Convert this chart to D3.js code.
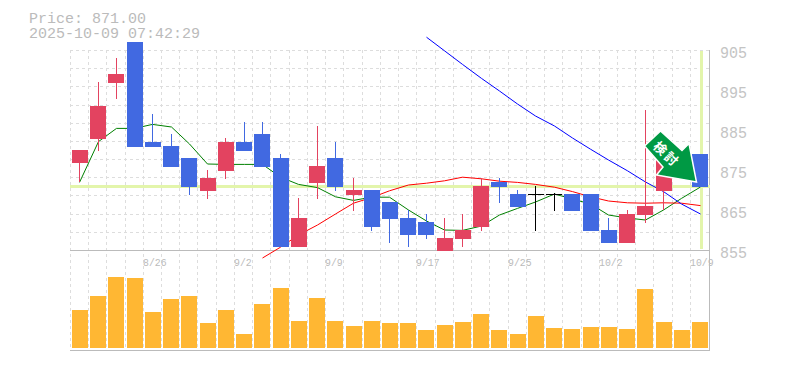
<!DOCTYPE html>
<html>
<head>
<meta charset="utf-8">
<script src="https://cdnjs.cloudflare.com/ajax/libs/d3/7.8.5/d3.min.js"></script>
<style>
  html, body { margin: 0; padding: 0; background: #fff; }
  svg { display: block; }
  text { font-family: "Liberation Mono", "DejaVu Sans Mono", monospace; fill: #bbb; }
</style>
</head>
<body>
<div class="canvas"></div>
<script>
// header lines
const titleLines = ['Price: 871.00', '2025-10-09 07:42:29'];
const lastPrice = 871;
const arrowLabel = ['検', '討'];

// trading days, one per candle
const dates = ['8/20','8/21','8/22','8/25','8/26','8/27','8/28','8/29','9/1','9/2',
  '9/3','9/4','9/5','9/8','9/9','9/10','9/11','9/12','9/16','9/17',
  '9/18','9/19','9/22','9/24','9/25','9/26','9/29','9/30','10/1','10/2',
  '10/3','10/6','10/7','10/8','10/9'];
const dateLabels = ['8/26','9/2','9/9','9/17','9/25','10/2','10/9'];
const priceTicks = [855, 865, 875, 885, 895, 905];

// ohlc (10/7 top and 10/8 sit behind the arrow, so those are guesses)
const opens = [876.75,882.75,896.75,907,882,881,878,869.75,874.75,882,
  884,878,855.75,871.75,878,868.75,870,867,863,862,
  854.75,857.75,860.75,872,869,869,869,869,869,860,
  856.75,863.75,869.75,877,879];
const closes = [880,891,899,880.75,880.75,875.75,870.75,873,882,879.75,
  875.75,855.75,863,876,870.75,870,860.75,862.75,858.75,858.75,
  858,860,871,870.75,865.75,869,869,864.75,859.75,856.75,
  864,866,879,879,870.75];
const highs = [880,897,903,907,889,884,878,875,883,887,
  887,879,868,886,882,873,870,867,865,864,
  863,864,873,873,870,871,869.25,869,869,863,
  865,890,879,879,879];
const lows = [872,879.75,892.75,880.75,880.75,875.75,868.75,867.75,872.75,879.75,
  875.75,855.75,855.75,867.75,869.75,864.75,859.75,856.75,855.75,857.75,
  854.75,855.75,859.75,866.75,865.75,859.75,864.75,864.75,859.75,856.75,
  856.75,861.75,865,877,870.75];

// moving averages, null where the line has not started yet
const maShort = [871.9,882.1,885.4,885.4,886.4,885.75,881.5,876.5,876.4,876.4,
  876.4,873.2,871.4,870.6,868.3,867.4,868.2,868.2,865,862.25,
  860,859.9,861,863.75,865.4,867,869,867.75,866.5,863.75,
  863,862.5,865,867.9,870.75];
const maMid = [null,null,null,null,null,null,null,null,null,null,
  853,855.7,858.75,861.25,864,866.7,868.1,869.8,871.25,871.7,
  872.3,873.2,872.8,872.2,871.9,871.4,870.7,869.6,868.3,867.25,
  866.8,866.7,866.8,866.7,866.1];
const maLong = [null,null,null,null,null,null,null,null,null,null,
  null,null,null,null,null,null,null,null,null,908.2,
  904.8,901.4,897.9,894.75,891.5,888.5,886,883,880.2,877.5,
  874.8,872,869.6,866.5,864];

// volume, no scale printed in the picture so these are relative heights
const volumes = [38,52,71,70,36,49,52,25,38,14,44,60,27,50,27,22,27,25,25,18,
  23,26,34,18,14,32,20,19,21,21,19,59,26,18,26];

const width = 785, height = 370;
const svg = d3.select('.canvas').append('svg')
  .attr('width', width)
  .attr('height', height);

const x = d3.scaleBand().domain(dates).range([71.9, 710.3]);
const y = d3.scaleLinear().domain([855, 905]).range([250, 50]);
const v = d3.scaleLinear().domain([0, 100]).range([348, 248]);

const barLeft = d => Math.round(x(d));
const cx = d => Math.floor(x(d) + 8) + .5;
const gridX = d => Math.floor(x(d) - 1.6) + .5;

// grid
const gridLayer = svg.append('g')
  .attr('stroke', '#ddd').attr('stroke-dasharray', '3,3');
gridLayer.selectAll('.gy').data(d3.range(1, 12)).enter().append('line')
  .attr('x1', 70).attr('x2', 709)
  .attr('y1', d => Math.round(250 - d * 200 / 11) + .5)
  .attr('y2', d => Math.round(250 - d * 200 / 11) + .5);
gridLayer.selectAll('.gx').data(dates).enter().append('line')
  .attr('x1', gridX).attr('x2', gridX)
  .attr('y1', 50).attr('y2', 350);

// frame lines
svg.append('path')
  .attr('d', 'M70,250.5H710M70,350.5H710M709.5,50V351')
  .attr('fill', 'none').attr('stroke', '#bbb').attr('stroke-width', 1);

// current price markers
svg.append('line')
  .attr('x1', 70).attr('x2', 710).attr('y1', y(lastPrice) + .5).attr('y2', y(lastPrice) + .5)
  .attr('stroke', '#e3f5ab').attr('stroke-width', 3);
svg.append('line')
  .attr('x1', cx(dates[34]) + 1).attr('x2', cx(dates[34]) + 1).attr('y1', 51).attr('y2', 249)
  .attr('stroke', '#e3f5ab').attr('stroke-width', 3);

// moving average lines, these go behind the candles
const lineGen = d3.line()
  .defined(d => d.v !== null)
  .x(d => cx(d.date))
  .y(d => y(d.v));
[[maShort, 'green'], [maMid, 'red'], [maLong, 'blue']].forEach(([vals, col]) => {
  svg.append('path')
    .datum(vals.map((val, i) => ({ date: dates[i], v: val })))
    .attr('d', lineGen)
    .attr('fill', 'none')
    .attr('stroke', col)
    .attr('stroke-width', 1);
});

// candles
const colour = i => opens[i] === closes[i] ? '#000' : (closes[i] > opens[i] ? '#e34360' : '#4169e1');
const candles = svg.append('g');
dates.forEach((d, i) => {
  candles.append('line')
    .attr('x1', cx(d)).attr('x2', cx(d))
    .attr('y1', y(highs[i])).attr('y2', y(lows[i]))
    .attr('stroke', colour(i));
  if (opens[i] === closes[i]) {
    candles.append('line')
      .attr('x1', barLeft(d)).attr('x2', barLeft(d) + 16)
      .attr('y1', y(opens[i]) + .5).attr('y2', y(opens[i]) + .5)
      .attr('stroke', '#000');
  } else {
    candles.append('rect')
      .attr('x', barLeft(d)).attr('width', 16)
      .attr('y', y(Math.max(opens[i], closes[i])))
      .attr('height', Math.abs(y(opens[i]) - y(closes[i])))
      .attr('fill', colour(i));
  }
});

// volume bars
svg.selectAll('.vol').data(dates).enter().append('rect')
  .attr('x', barLeft)
  .attr('width', 16)
  .attr('y', (d, i) => v(volumes[i]))
  .attr('height', (d, i) => 348 - v(volumes[i]))
  .attr('fill', '#ffb733');

// axis text
svg.selectAll('.price').data(priceTicks).enter().append('text')
  .attr('x', 720).attr('y', d => y(d) + 8)
  .attr('font-size', 16)
  .attr('textLength', 27)
  .attr('lengthAdjust', 'spacingAndGlyphs')
  .style('fill', '#c4c4c4')
  .text(d => d);
svg.selectAll('.date').data(dateLabels).enter().append('text')
  .attr('x', d => Math.floor(x(d) - 1.6))
  .attr('y', 266)
  .attr('font-size', 11.5)
  .attr('textLength', d => d.length * 5.9)
  .attr('lengthAdjust', 'spacingAndGlyphs')
  .style('fill', '#bbb')
  .text(d => d);

// header
svg.selectAll('.title').data(titleLines).enter().append('text')
  .attr('x', 29).attr('y', (d, i) => 23 + i * 15)
  .attr('font-size', 14)
  .attr('textLength', d => d.length * 9)
  .attr('lengthAdjust', 'spacingAndGlyphs')
  .style('fill', '#bbb')
  .text(d => d);

// arrow annotation, tip on the latest candle
const arrow = svg.append('g');
arrow.append('path')
  .attr('d', 'M644.5,146L660.5,131L682,150.5L689,143.5L696.5,182L656.5,175L663,167Z')
  .attr('fill', '#009944')
  .attr('stroke', '#fff')
  .attr('stroke-width', 1.5);
arrow.selectAll('text').data(arrowLabel).enter().append('text')
  .attr('transform', (d, i) => `translate(${660.7 + i * 11},${147.7 + i * 10.6}) rotate(42)`)
  .attr('text-anchor', 'middle')
  .attr('dominant-baseline', 'central')
  .attr('font-size', 13)
  .attr('font-weight', 700)
  .style('font-family', '"Noto Sans CJK JP"')
  .style('fill', '#fff')
  .text(d => d);
</script>
</body>
</html>
